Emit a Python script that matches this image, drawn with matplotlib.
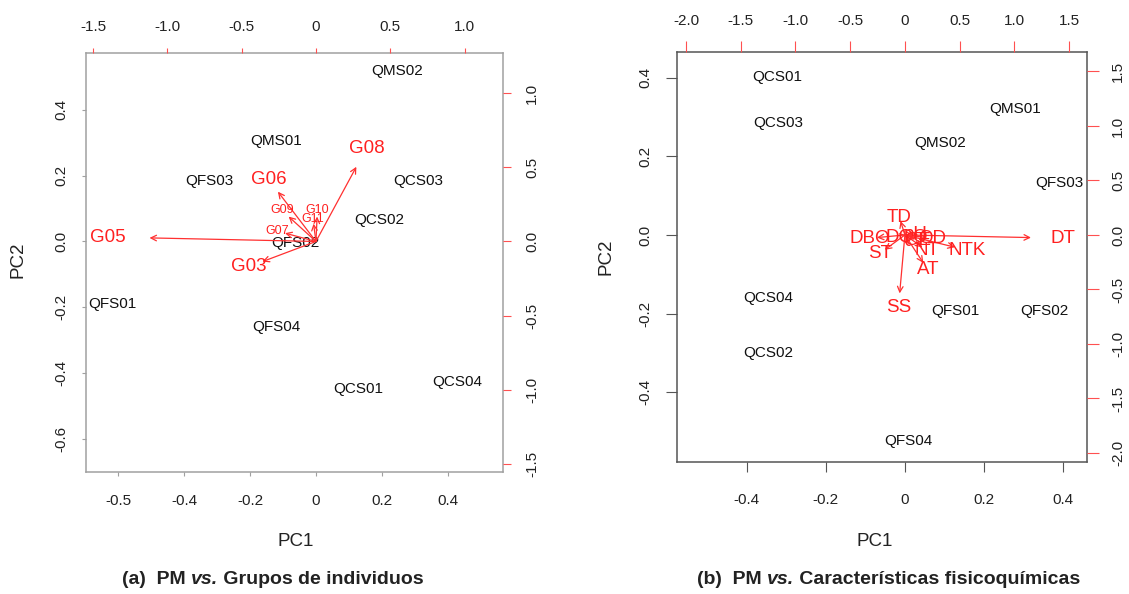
import matplotlib
matplotlib.use('Agg')
import matplotlib.pyplot as plt

plt.rcParams['font.family'] = ['Liberation Sans', 'DejaVu Sans']

# (a) PM vs. grupos de individuos
obs_a = ['QMS02', 'QMS01', 'QFS03', 'QCS03', 'QCS02', 'QFS02', 'QFS01', 'QFS04', 'QCS01', 'QCS04']
pc1_a = [0.245, -0.121, -0.324, 0.309, 0.191, -0.061, -0.618, -0.121, 0.127, 0.427]
pc2_a = [0.518, 0.305, 0.183, 0.183, 0.064, -0.006, -0.189, -0.259, -0.448, -0.427]
var_a = ['G05', 'G08', 'G06', 'G03', 'G09', 'G10', 'G07', 'G11']
load1_a = [-1.40, 0.34, -0.32, -0.45, -0.23, 0.01, -0.26, -0.02]
load2_a = [0.03, 0.63, 0.42, -0.17, 0.21, 0.21, 0.07, 0.15]

# (b) PM vs. caracteristicas fisicoquimicas
obs_b = ['QCS01', 'QCS03', 'QMS01', 'QMS02', 'QFS03', 'QCS04', 'QFS01', 'QFS02', 'QCS02', 'QFS04']
pc1_b = [-0.324, -0.321, 0.278, 0.089, 0.390, -0.347, 0.129, 0.352, -0.347, 0.008]
pc2_b = [0.402, 0.285, 0.320, 0.234, 0.132, -0.160, -0.193, -0.193, -0.300, -0.523]
var_b = ['DT', 'SS', 'TD', 'DBO', 'ST', 'NT', 'NTK', 'AT', 'DQO', 'OD', 'pH', 'CE']
load1_b = [1.44, -0.06, -0.05, -0.32, -0.23, 0.20, 0.57, 0.21, 0.02, 0.25, 0.10, 0.12]
load2_b = [-0.03, -0.67, 0.16, -0.03, -0.17, -0.14, -0.14, -0.32, -0.02, -0.03, 0.0, -0.05]

# tick labels as printed
bot_a = ['-0.5', '-0.4', '-0.2', '0', '0.2', '0.4']
left_a = ['-0.6', '-0.4', '-0.2', '0.0', '0.2', '0.4']
top_a = ['-1.5', '-1.0', '-0.5', '0', '0.5', '1.0']
right_a = ['-1.5', '-1.0', '-0.5', '0.0', '0.5', '1.0']
bot_b = ['-0.4', '-0.2', '0', '0.2', '0.4']
left_b = ['-0.4', '-0.2', '0.0', '0.2', '0.4']
top_b = ['-2.0', '-1.5', '-1.0', '-0.5', '0', '0.5', '1.0', '1.5']
right_b = ['-2.0', '-1.5', '-1.0', '-0.5', '0.0', '0.5', '1.0', '1.5']

small_a = {'G09', 'G10', 'G07', 'G11'}

W, H = 1129, 594
fig = plt.figure(figsize=(W / 100, H / 100), dpi=100)


def rect(x0, y0, x1, y1):
    return [x0 / W, 1 - y1 / H, (x1 - x0) / W, (y1 - y0) / H]


def biplot(r, xlim, ylim, k, obs, p1, p2, var, l1, l2,
           bticks, blab, lticks, llab, tticks, tlab, rticks, rlab,
           spine_col, tick_len, pads, varsize, small=()):
    ax = fig.add_axes(r)
    ax.set_xlim(xlim)
    ax.set_ylim(ylim)
    for s in ax.spines.values():
        s.set_color(spine_col)
        s.set_linewidth(1.1)
    ax.set_xticks(bticks)
    ax.set_xticklabels(blab)
    ax.set_yticks(lticks)
    ax.set_yticklabels(llab, rotation=90, va='center')
    ax.tick_params(axis='x', length=tick_len[0], color=spine_col, pad=pads[0], labelsize=11, labelcolor='#222222')
    ax.tick_params(axis='y', length=tick_len[1], color=spine_col, pad=pads[1], labelsize=11, labelcolor='#222222')
    for x, y, s in zip(p1, p2, obs):
        ax.text(x, y, s, fontsize=11, ha='center', va='center', color='#111111')

    ax2 = fig.add_axes(r, frameon=False)
    ax2.set_xlim(xlim[0] * k, xlim[1] * k)
    ax2.set_ylim(ylim[0] * k, ylim[1] * k)
    ax2.xaxis.tick_top()
    ax2.yaxis.tick_right()
    ax2.set_xticks(tticks)
    ax2.set_xticklabels(tlab)
    ax2.set_yticks(rticks)
    ax2.set_yticklabels(rlab, rotation=90, va='center')
    ax2.tick_params(axis='x', length=tick_len[2], color='#ff5050', pad=pads[2], labelsize=11, labelcolor='#222222')
    ax2.tick_params(axis='y', length=tick_len[3], color='#ff5050', pad=pads[3], labelsize=11, labelcolor='#222222')
    for x, y, s in zip(l1, l2, var):
        ax2.annotate('', xy=(0.8 * x, 0.8 * y), xytext=(0, 0),
                     arrowprops=dict(arrowstyle='->', color='#ff3030', lw=0.9,
                                     mutation_scale=10, shrinkA=0, shrinkB=0))
        ax2.text(x, y, s, fontsize=9 if s in small else varsize,
                 ha='center', va='center', color='#ff2020')
    return ax, ax2


biplot(rect(86, 53, 503, 472), (-0.697, 0.567), (-0.701, 0.573), 2.22,
       obs_a, pc1_a, pc2_a, var_a, load1_a, load2_a,
       [-0.6, -0.4, -0.2, 0, 0.2, 0.4], bot_a,
       [-0.6, -0.4, -0.2, 0, 0.2, 0.4], left_a,
       [-1.5, -1.0, -0.5, 0, 0.5, 1.0], top_a,
       [-1.5, -1.0, -0.5, 0, 0.5, 1.0], right_a,
       '#a0a0a0', (3, 3, 3.5, 6), (13, 10, 10, 10), 13.5, small_a)

biplot(rect(677, 52, 1087, 462), (-0.577, 0.461), (-0.577, 0.465), 3.61,
       obs_b, pc1_b, pc2_b, var_b, load1_b, load2_b,
       [-0.4, -0.2, 0, 0.2, 0.4], bot_b,
       [-0.4, -0.2, 0, 0.2, 0.4], left_b,
       [-2.0, -1.5, -1.0, -0.5, 0, 0.5, 1.0, 1.5], top_b,
       [-2.0, -1.5, -1.0, -0.5, 0, 0.5, 1.0, 1.5], right_b,
       '#555555', (7, 8, 8, 8.5), (15, 10, 9.5, 9), 13.5)

# axis titles
fig.text(296 / W, 1 - 541 / H, 'PC1', fontsize=13.5, ha='center', va='center', color='#222222')
fig.text(875 / W, 1 - 541 / H, 'PC1', fontsize=13.5, ha='center', va='center', color='#222222')
fig.text(18 / W, 1 - 260 / H, 'PC2', fontsize=13.5, ha='center', va='center', rotation=90, color='#222222')
fig.text(606 / W, 1 - 257 / H, 'PC2', fontsize=13.5, ha='center', va='center', rotation=90, color='#222222')

# captions with italic "vs."
fig.canvas.draw()
rend = fig.canvas.get_renderer()


def caption(x0, y, parts):
    x = x0
    for s, st in parts:
        t = fig.text(x / W, 1 - y / H, s, fontsize=14, fontweight='bold', style=st,
                     ha='left', va='center', color='#222222')
        x += t.get_window_extent(rend).width


caption(122, 580, [('(a)  PM ', 'normal'), ('vs.', 'italic'), (' Grupos de individuos', 'normal')])
caption(697, 580, [('(b)  PM ', 'normal'), ('vs.', 'italic'), (' Características fisicoquímicas', 'normal')])

fig.savefig('out.png', dpi=100)
